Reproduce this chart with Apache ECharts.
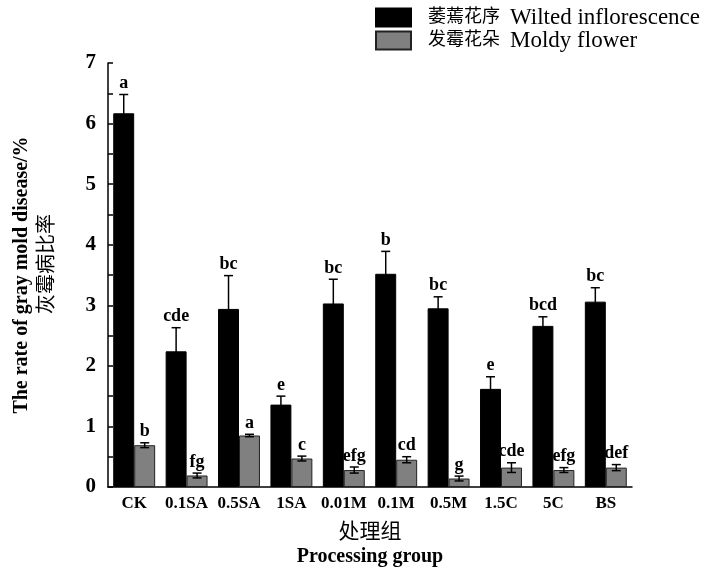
<!DOCTYPE html>
<html>
<head>
<meta charset="utf-8">
<script src="https://cdn.jsdelivr.net/npm/echarts@6/dist/echarts.min.js"></script>
<style>
  html, body { margin: 0; padding: 0; background: #fff; }
  #chart { width: 709px; height: 572px; }
</style>
</head>
<body>
<div id="chart"></div>
<script>
// Treatment groups
const categories = ['CK', '0.1SA', '0.5SA', '1SA', '0.01M', '0.1M', '0.5M', '1.5C', '5C', 'BS'];

// Wilted inflorescence: mean, error, significance letters
const wiltedValues = [6.17, 2.24, 2.94, 1.36, 3.03, 3.52, 2.95, 1.62, 2.66, 3.06];
const wiltedErrors = [0.31, 0.39, 0.55, 0.14, 0.40, 0.37, 0.19, 0.20, 0.15, 0.23];
const wiltedLetters = ['a', 'cde', 'bc', 'e', 'bc', 'b', 'bc', 'e', 'bcd', 'bc'];

// Moldy flower: mean, error, significance letters
const moldyValues = [0.69, 0.19, 0.85, 0.47, 0.28, 0.45, 0.14, 0.32, 0.28, 0.32];
const moldyErrors = [0.04, 0.04, 0.02, 0.04, 0.05, 0.05, 0.04, 0.08, 0.04, 0.05];
const moldyLetters = ['b', 'fg', 'a', 'c', 'efg', 'cd', 'g', 'cde', 'efg', 'def'];

// Y axis ticks
const yTicks = [0, 1, 2, 3, 4, 5, 6, 7];

// Legend captions (Chinese / English)
const seriesZh = ['萎蔫花序', '发霉花朵'];
const seriesEn = ['Wilted inflorescence', 'Moldy flower'];

const serif = '"Times New Roman", "Liberation Serif", "DejaVu Serif", "Noto Sans CJK SC", serif';
const serifCJK = '"Times New Roman", "Liberation Serif", "Noto Sans CJK SC", serif';

const seriesNames = seriesZh.map((z, i) => z + ' ' + seriesEn[i]);

const chart = echarts.init(document.getElementById('chart'));

// Error bar + letter drawn above each bar; offset is a fraction of the category band
function errorSeries(name, values, errors, letters, offset) {
  return {
    type: 'custom',
    name: name + '_err',
    z: 10,
    silent: true,
    data: values.map((v, i) => [i, v, errors[i]]),
    renderItem: function (params, api) {
      const i = api.value(0);
      const v = api.value(1);
      const e = api.value(2);
      const band = api.size([1, 0])[0];
      const x = api.coord([i, v])[0] + offset * band;
      const yHi = api.coord([i, v + e])[1];
      const yLo = api.coord([i, v - e])[1];
      const cap = 4.5;
      const style = { stroke: '#000', lineWidth: 1.5 };
      return {
        type: 'group',
        children: [
          { type: 'line', shape: { x1: x, y1: yHi, x2: x, y2: yLo }, style: style },
          { type: 'line', shape: { x1: x - cap, y1: yHi, x2: x + cap, y2: yHi }, style: style },
          { type: 'line', shape: { x1: x - cap, y1: yLo, x2: x + cap, y2: yLo }, style: style },
          {
            type: 'text',
            x: x,
            y: yHi - 2,
            style: {
              text: letters[params.dataIndex],
              fill: '#000',
              font: 'bold 18px ' + serif,
              textAlign: 'center',
              textVerticalAlign: 'bottom'
            }
          }
        ]
      };
    }
  };
}

const option = {
  animation: false,
  backgroundColor: '#fff',
  grid: { left: 108, right: 77, top: 63, bottom: 85, containLabel: false },
  legend: {
    orient: 'vertical',
    left: 375,
    top: 6,
    padding: 0,
    icon: 'rect',
    itemWidth: 35,
    itemHeight: 18,
    itemGap: 0,
    data: seriesNames,
    formatter: function (name) {
      const i = seriesNames.indexOf(name);
      return '{zh|' + seriesZh[i] + '}{en|' + seriesEn[i] + '}';
    },
    textStyle: {
      color: '#000',
      padding: [0, 0, 0, 12],
      rich: {
        zh: { fontFamily: serifCJK, fontSize: 18, color: '#000', lineHeight: 24 },
        en: { fontFamily: serif, fontSize: 23, color: '#000', lineHeight: 24, padding: [0, 0, 0, 10] }
      }
    }
  },
  xAxis: {
    type: 'category',
    data: categories,
    axisLine: { lineStyle: { color: '#000', width: 1.5 } },
    axisTick: { inside: true, length: 5, lineStyle: { color: '#000', width: 1.5 } },
    axisLabel: { interval: 0, color: '#000', fontFamily: serif, fontWeight: 'bold', fontSize: 17, margin: 8 }
  },
  yAxis: {
    type: 'value',
    min: yTicks[0],
    max: yTicks[yTicks.length - 1],
    interval: 1,
    splitLine: { show: false },
    axisLine: { show: true, lineStyle: { color: '#000', width: 1.5 } },
    axisTick: { show: true, inside: true, length: 5, lineStyle: { color: '#000', width: 1.5 } },
    minorTick: { show: true, splitNumber: 2, length: 5, lineStyle: { color: '#000', width: 1.5 } },
    axisLabel: { color: '#000', fontFamily: serif, fontWeight: 'bold', fontSize: 21, margin: 12 }
  },
  graphic: [
    {
      type: 'text',
      x: 22, y: 275, rotation: Math.PI / 2,
      style: {
        text: 'The rate of gray mold disease/%',
        font: 'bold 20px ' + serif,
        fill: '#000', textAlign: 'center', textVerticalAlign: 'middle'
      }
    },
    {
      type: 'text',
      x: 48, y: 264, rotation: Math.PI / 2,
      style: {
        text: '灰霉病比率',
        font: '20px ' + serifCJK,
        fill: '#000', textAlign: 'center', textVerticalAlign: 'middle'
      }
    },
    {
      type: 'text',
      x: 370, y: 532,
      style: {
        text: '处理组',
        font: '21px ' + serifCJK,
        fill: '#000', textAlign: 'center', textVerticalAlign: 'middle'
      }
    },
    {
      type: 'text',
      x: 370, y: 557,
      style: {
        text: 'Processing group',
        font: 'bold 20px ' + serif,
        fill: '#000', textAlign: 'center', textVerticalAlign: 'middle'
      }
    }
  ],
  series: [
    {
      name: seriesNames[0],
      type: 'bar',
      data: wiltedValues,
      barWidth: '40%',
      barGap: '0%',
      itemStyle: { color: '#000', borderColor: '#000', borderWidth: 1 }
    },
    {
      name: seriesNames[1],
      type: 'bar',
      data: moldyValues,
      barWidth: '40%',
      barGap: '0%',
      itemStyle: { color: '#808080', borderColor: '#222', borderWidth: 1 }
    },
    errorSeries('wilted', wiltedValues, wiltedErrors, wiltedLetters, -0.2),
    errorSeries('moldy', moldyValues, moldyErrors, moldyLetters, 0.2)
  ]
};

chart.setOption(option);
</script>
</body>
</html>
